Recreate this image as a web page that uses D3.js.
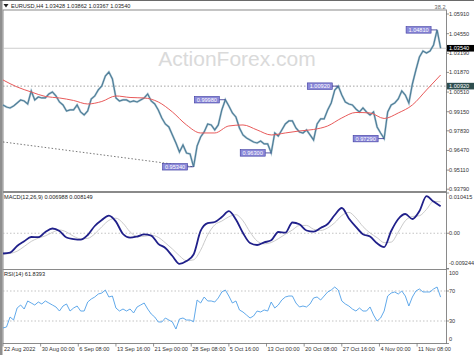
<!DOCTYPE html>
<html><head><meta charset="utf-8">
<script src="https://cdn.jsdelivr.net/npm/d3@7"></script>
<style>
html,body{margin:0;padding:0;background:#fff;}
svg{display:block;font-family:"Liberation Sans",Arial,sans-serif;}
</style></head><body>
<svg id="c" width="474" height="355"></svg>
<script>
// ---------------- DATA ----------------
const headerText = "EURUSD,H4  1.03428 1.03862 1.03367 1.03540";
const macdTitle = "MACD(12,26,9) 0.006988 0.008149";
const rsiTitle = "RSI(14) 61.8393";
const watermark = "ActionForex.com";
const fibLabel = "38.2";

const dateLabels = ["22 Aug 2022","30 Aug 00:00","6 Sep 08:00","13 Sep 16:00","21 Sep 00:00","28 Sep 08:00","5 Oct 16:00","13 Oct 00:00","20 Oct 08:00","27 Oct 16:00","4 Nov 00:00","11 Nov 08:00"];
const dateTickBars = [0,32,64,96,128,160,192,224,256,288,320,352];
const totalBars = 377;

// closes sampled every 3 H4 bars
const priceStep = 3;
const priceClose = [
0.99617,0.99478,0.99409,0.99548,0.99755,0.99963,0.99893,0.99686,1.00585,0.99963,
1.00170,1.00101,1.00101,1.00378,1.00516,1.00239,0.99824,0.99617,0.99202,0.99271,
0.99271,0.99617,0.99133,0.98925,0.99202,1.00032,1.00239,1.00654,1.00931,1.01622,
1.01899,1.01415,1.00101,0.99893,0.99963,0.99963,0.99824,0.99893,0.99824,0.99963,
1.00101,1.00378,0.99893,0.99686,0.99271,0.98718,0.98303,0.98095,0.97542,0.96989,
0.96366,0.96850,0.96297,0.96228,0.95340,0.96781,0.97404,0.97750,0.98303,0.98234,
0.97888,0.98234,0.99271,0.99980,0.99548,0.99064,0.98787,0.98026,0.97542,0.97335,
0.97196,0.97058,0.96989,0.97127,0.96920,0.96920,0.96300,0.97680,0.97473,0.97888,
0.98303,0.98510,0.98510,0.98026,0.97750,0.97680,0.97888,0.97542,0.97196,0.98303,
0.98649,0.98649,0.99271,0.99755,1.00654,1.00920,1.00308,0.99824,0.99686,0.99617,
0.99340,0.99133,0.99409,0.99133,0.98925,0.99133,0.98095,0.97680,0.97290,0.99133,
0.99617,0.99755,1.00032,1.00585,1.00308,0.99755,1.01069,1.02037,1.02936,1.03351,
1.03213,1.03351,1.03766,1.04810,1.03540];

// moving average sampled every 12 bars
const maStep = 12;
const maValues = [
1.01346,1.00862,1.00516,1.00205,1.00101,0.99928,0.99686,0.99859,1.00239,1.00135,
1.00101,0.99824,0.99133,0.98234,0.97680,0.97680,0.98165,0.98234,0.97888,0.97542,
0.97680,0.97819,0.97922,0.98165,0.98718,0.99098,0.99064,0.98683,0.99064,0.99617,
1.00654,1.01691];

// MACD sampled every 6 bars
const macdStep = 6;
const macdMain = [
-0.00524,-0.00500,-0.00330,-0.00208,-0.00097,-0.00102,0.00033,0.00123,0.00059,-0.00110,
-0.00149,-0.00167,-0.00045,0.00188,0.00343,0.00457,0.00302,-0.00019,-0.00115,-0.00084,
-0.00030,-0.00061,-0.00273,-0.00381,-0.00588,-0.00790,-0.00720,-0.00549,0.00059,0.00260,
0.00291,0.00421,0.00571,0.00356,0.00007,-0.00252,-0.00304,-0.00236,-0.00182,0.00033,
0.00015,0.00278,0.00232,0.00071,0.00040,0.00136,0.00240,0.00472,0.00653,0.00384,
0.00167,-0.00024,-0.00086,-0.00260,-0.00358,0.00059,0.00369,0.00498,0.00369,0.00576,
0.00960,0.00819,0.006988];
const macdSignal = [
-0.00540,-0.00522,-0.00464,-0.00342,-0.00211,-0.00126,-0.00067,0.00022,0.00085,0.00033,
-0.00078,-0.00144,-0.00132,-0.00017,0.00169,0.00333,0.00390,0.00261,0.00037,-0.00083,
-0.00078,-0.00051,-0.00106,-0.00247,-0.00406,-0.00582,-0.00710,-0.00686,-0.00438,-0.00043,
0.00218,0.00316,0.00426,0.00480,0.00323,0.00030,-0.00200,-0.00274,-0.00240,-0.00142,
-0.00025,0.00085,0.00201,0.00203,0.00104,0.00072,0.00138,0.00272,0.00459,0.00541,
0.00397,0.00174,0.00008,-0.00114,-0.00241,-0.00229,0.00032,0.00324,0.00434,0.00453,
0.00618,0.00824,0.008149];

// RSI sampled every 3 bars
const rsiStep = 3;
const rsiValues = [
20.7,22.0,35.3,31.3,47.3,51.3,46.0,56.7,54.0,51.3,
55.3,52.7,56.7,54.0,51.3,48.7,43.3,50.0,52.7,43.3,
47.3,50.0,43.3,43.3,55.3,59.3,62.0,66.0,67.3,71.3,
62.0,63.3,47.3,43.3,46.0,43.3,46.0,40.7,48.7,51.3,
54.0,46.0,39.3,35.3,28.7,28.7,34.0,31.3,28.7,19.3,
32.7,34.0,31.3,31.3,29.0,58.0,54.0,62.0,56.7,56.7,
55.3,60.7,68.7,71.3,63.3,54.0,56.7,44.7,42.0,38.0,
34.0,36.7,43.3,42.0,44.7,43.3,55.3,47.3,51.3,58.0,
62.0,63.3,63.3,54.0,48.7,50.0,48.7,52.7,60.7,62.0,
58.0,63.3,68.7,71.3,75.3,71.3,56.7,52.7,50.0,46.0,
43.3,47.3,43.3,43.3,48.7,38.0,30.0,34.0,43.3,63.3,
67.3,68.7,66.0,70.0,63.3,50.0,62.0,70.0,72.7,68.7,
68.7,68.7,72.7,75.3,61.84];

const priceTicks = [1.0591,1.0455,1.0319,1.0187,1.0051,0.9915,0.9783,0.9647,0.9511,0.9379];
const priceTickLabels = ["1.05910","1.04550","1.03190","1.01870","1.00510","0.99150","0.97830","0.96470","0.95110","0.93790"];
const macdTicks = [0.010415,0,-0.009244];
const macdTickLabels = ["0.010415","0.00","-0.009244"];
const rsiTicks = [100,70,30,0];
const rsiLevels = [70,30];

const markerBars = [369,189,162,285,228,324];
const markerValues = [1.0481,0.9998,0.9534,1.0092,0.9630,0.9729];
const markerLabels = ["1.04810","0.99980","0.95340","1.00920","0.96300","0.97290"];

const lastPrice = 1.0354, lastPriceLabel = "1.03540";
const levelPrice = 1.0092, levelPriceLabel = "1.00920";
const trendBars = [0,162];
const trendValues = [0.97058,0.9534];

// ---------------- LAYOUT ----------------
const svg = d3.select("#c");
const L = 3, R = 446.5;
const mainTop = 10, mainBot = 191.5;
const macdTop = 192.5, macdBot = 269.5;
const rsiTop = 269.5, rsiBot = 343.5;
const fs = 5.6;

const x = d3.scaleLinear().domain([0,totalBars]).range([L,R]);
const yP = d3.scaleLinear().domain([0.9379,1.0591]).range([189.2,14]);
const yM = d3.scaleLinear().domain([-0.009244,0.010415]).range([269,193]);
const yR = d3.scaleLinear().domain([0,100]).range([343.5,268.5]);

svg.append("rect").attr("x",0).attr("y",0).attr("width",474).attr("height",355).attr("fill","#fff");
svg.append("rect").attr("x",0).attr("y",0).attr("width",2.5).attr("height",355).attr("fill","#8f8f8f");
svg.append("rect").attr("x",0).attr("y",0).attr("width",474).attr("height",1).attr("fill","#6a6a6a");

// watermark
svg.append("text").attr("x",237).attr("y",66).attr("text-anchor","middle")
  .attr("font-size",21).attr("fill","#dadada").text(watermark);

// panel frames
[[mainTop,mainBot],[macdTop,macdBot],[rsiTop,rsiBot]].forEach(([t,b])=>{
  svg.append("rect").attr("x",L).attr("y",t).attr("width",R-L).attr("height",b-t)
    .attr("fill","none").attr("stroke","#8a8a8a").attr("stroke-width",1);
});

// header
svg.append("path").attr("d","M3.5,4 L8.5,4 L6,7.5 Z").attr("fill","#222");
svg.append("text").attr("x",11).attr("y",7.5).attr("font-size",fs).attr("fill","#222").text(headerText);
svg.append("text").attr("x",R-1).attr("y",8.5).attr("text-anchor","end").attr("font-size",fs).attr("fill","#666").text(fibLabel);

// main chart lines
svg.append("line").attr("x1",L).attr("x2",R).attr("y1",yP(lastPrice)).attr("y2",yP(lastPrice)).attr("stroke","#c0c0c0").attr("stroke-width",0.8);
svg.append("line").attr("x1",L).attr("x2",R).attr("y1",yP(levelPrice)).attr("y2",yP(levelPrice)).attr("stroke","#8a8a8a").attr("stroke-width",0.8).attr("stroke-dasharray","1.5,2");
svg.append("line").attr("x1",x(trendBars[0])).attr("x2",x(trendBars[1])).attr("y1",yP(trendValues[0])).attr("y2",yP(trendValues[1])).attr("stroke","#555").attr("stroke-width",0.8).attr("stroke-dasharray","1.5,2");

const linePrice = d3.line().x((d,i)=>x(i*priceStep)).y(d=>yP(d));
svg.append("path").datum(priceClose).attr("d",linePrice).attr("fill","none").attr("stroke","#7aa3ba").attr("stroke-width",2.2).attr("stroke-linejoin","miter").attr("opacity",0.5);
svg.append("path").datum(priceClose).attr("d",linePrice).attr("fill","none").attr("stroke","#4f7e98").attr("stroke-width",1.2).attr("stroke-linejoin","miter");

const lineMA = d3.line().x((d,i)=>x(i*maStep)).y(d=>yP(d)).curve(d3.curveMonotoneX);
svg.append("path").datum(maValues).attr("d",lineMA).attr("fill","none").attr("stroke","#e85a5a").attr("stroke-width",1);

// marker boxes
markerBars.forEach((b,i)=>{
  const px = x(b), py = yP(markerValues[i]);
  const bw = 25, bh = 6.5, right = px - 6;
  svg.append("line").attr("x1",right).attr("x2",px).attr("y1",py).attr("y2",py).attr("stroke","#2c2c8c").attr("stroke-width",0.8);
  svg.append("rect").attr("x",right-bw).attr("y",py-bh/2).attr("width",bw).attr("height",bh)
    .attr("fill","#8a88d8").attr("stroke","#3c3aa0").attr("stroke-width",0.6);
  svg.append("text").attr("x",right-bw/2).attr("y",py+2).attr("text-anchor","middle").attr("font-size",fs).attr("fill","#fff").text(markerLabels[i]);
});

// right axis (main)
priceTicks.forEach((v,i)=>{
  const yy = yP(v);
  svg.append("line").attr("x1",R).attr("x2",R+2.5).attr("y1",yy).attr("y2",yy).attr("stroke","#666").attr("stroke-width",0.7);
  svg.append("text").attr("x",449).attr("y",yy+2).attr("font-size",fs).attr("fill","#333").text(priceTickLabels[i]);
});
[[lastPrice,lastPriceLabel,"#000"],[levelPrice,levelPriceLabel,"#2e4e4e"]].forEach(([v,lab,c])=>{
  const yy = yP(v);
  svg.append("rect").attr("x",447).attr("y",yy-3.3).attr("width",27).attr("height",6.6).attr("fill",c);
  svg.append("text").attr("x",449).attr("y",yy+2).attr("font-size",fs).attr("fill","#fff").text(lab);
});

// MACD panel
svg.append("line").attr("x1",L).attr("x2",R).attr("y1",yM(0)).attr("y2",yM(0)).attr("stroke","#aaa").attr("stroke-width",0.7).attr("stroke-dasharray","1.5,2");
const lineSig = d3.line().x((d,i)=>x(i*macdStep)).y(d=>yM(d)).curve(d3.curveMonotoneX);
svg.append("path").datum(macdSignal).attr("d",lineSig).attr("fill","none").attr("stroke","#c4c4c4").attr("stroke-width",0.9);
svg.append("path").datum(macdMain).attr("d",lineSig).attr("fill","none").attr("stroke","#20208a").attr("stroke-width",1.8).attr("stroke-linejoin","round");
svg.append("text").attr("x",4).attr("y",199).attr("font-size",fs).attr("fill","#222").text(macdTitle);
const macdLabelY = [198.5,235,265];
macdTicks.forEach((v,i)=>{
  svg.append("line").attr("x1",R).attr("x2",R+2.5).attr("y1",yM(v)).attr("y2",yM(v)).attr("stroke","#666").attr("stroke-width",0.7);
  svg.append("text").attr("x",449).attr("y",macdLabelY[i]).attr("font-size",fs).attr("fill","#333").text(macdTickLabels[i]);
});

// RSI panel
rsiLevels.forEach(v=>{
  svg.append("line").attr("x1",L).attr("x2",R).attr("y1",yR(v)).attr("y2",yR(v)).attr("stroke","#aaa").attr("stroke-width",0.7).attr("stroke-dasharray","1.5,2");
});
const lineRsi = d3.line().x((d,i)=>x(i*rsiStep)).y(d=>yR(d));
svg.append("path").datum(rsiValues).attr("d",lineRsi).attr("fill","none").attr("stroke","#4f9fe8").attr("stroke-width",0.9).attr("stroke-linejoin","round");
svg.append("text").attr("x",4).attr("y",276).attr("font-size",fs).attr("fill","#222").text(rsiTitle);
const rsiLabelY = [275,293,323,341];
rsiTicks.forEach((v,i)=>{
  svg.append("line").attr("x1",R).attr("x2",R+2.5).attr("y1",yR(v)).attr("y2",yR(v)).attr("stroke","#666").attr("stroke-width",0.7);
  svg.append("text").attr("x",449).attr("y",rsiLabelY[i]).attr("font-size",fs).attr("fill","#333").text(String(v));
});

// date axis
dateTickBars.forEach((b,i)=>{
  const xx = x(b);
  svg.append("line").attr("x1",xx).attr("x2",xx).attr("y1",rsiBot).attr("y2",rsiBot+3).attr("stroke","#666").attr("stroke-width",0.7);
  svg.append("text").attr("x",xx+1).attr("y",350.5).attr("font-size",fs).attr("fill","#333").text(dateLabels[i]);
});
</script>
</body></html>
